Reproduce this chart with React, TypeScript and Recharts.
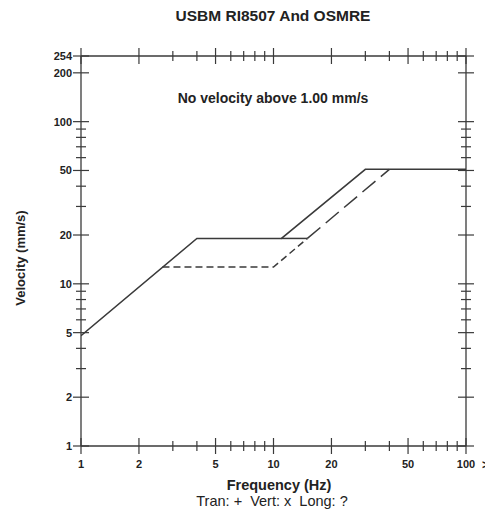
import { LineChart, Line, XAxis, YAxis } from "recharts";

// limit curves (Hz, mm/s)
const osmreFreq = [1, 4, 11, 30, 100];
const osmreVel = [4.79, 19.05, 19.05, 50.8, 50.8];

const drywallFreq = [11, 15];
const drywallVel = [19.05, 19.05];

const plasterFreq = [2.65, 10, 15];
const plasterVel = [12.7, 12.7, 19.05];

const dispFreq = [15, 40];
const dispVel = [19.05, 50.8];

const xTicks = [1, 2, 3, 4, 5, 6, 7, 8, 9, 10, 20, 30, 40, 50, 60, 70, 80, 90, 100];
const xMajor = [1, 2, 5, 10, 20, 50, 100];

const yTicks = [1, 2, 3, 4, 5, 6, 7, 8, 9, 10, 20, 30, 40, 50, 60, 70, 80, 90, 100, 200, 254];
const yMajor = [1, 2, 5, 10, 20, 50, 100, 200, 254];

const toPoints = (f: number[], v: number[]) => f.map((x, i) => ({ f: x, v: v[i] }));

const INK = "#3a3a3a";
const FONT = "'Liberation Sans', Arial, sans-serif";

function tickLen(major: boolean) {
  return major ? 8 : 5;
}

function BottomTick(props: any) {
  const { x, y, payload } = props;
  const major = xMajor.includes(payload.value);
  const len = tickLen(major);
  return (
    <g>
      <line x1={x} x2={x} y1={y - len} y2={y + len} stroke={INK} strokeWidth={1.2} />
      {major && (
        <text x={x} y={y + 22} textAnchor="middle" fontSize={11} fontWeight="bold" fill="#222" fontFamily={FONT}>
          {payload.value}
        </text>
      )}
    </g>
  );
}

function TopTick(props: any) {
  const { x, y, payload } = props;
  const len = tickLen(xMajor.includes(payload.value));
  return <line x1={x} x2={x} y1={y - len} y2={y + len} stroke={INK} strokeWidth={1.2} />;
}

function LeftTick(props: any) {
  const { x, y, payload } = props;
  const major = yMajor.includes(payload.value);
  const len = tickLen(major);
  return (
    <g>
      <line x1={x - len} x2={x + len} y1={y} y2={y} stroke={INK} strokeWidth={1.2} />
      {major && (
        <text x={x - 9} y={y + 4} textAnchor="end" fontSize={11} fontWeight="bold" fill="#222" fontFamily={FONT}>
          {payload.value}
        </text>
      )}
    </g>
  );
}

function RightTick(props: any) {
  const { x, y, payload } = props;
  const len = tickLen(yMajor.includes(payload.value));
  return <line x1={x - len} x2={x + len} y1={y} y2={y} stroke={INK} strokeWidth={1.2} />;
}

export default function App() {
  const W = 485;
  const H = 501;

  return (
    <div style={{ position: "relative", width: W, height: H, overflow: "hidden", background: "#fff" }}>
      <LineChart width={W} height={H} margin={{ top: 47, right: 26, bottom: 0, left: 0 }}>
        <XAxis
          dataKey="f"
          type="number"
          scale="log"
          domain={[1, 100]}
          allowDataOverflow
          ticks={xTicks}
          interval={0}
          height={63}
          tickSize={0}
          tickMargin={0}
          tick={<BottomTick />}
          axisLine={{ stroke: INK, strokeWidth: 1.3 }}
          tickLine={false}
        />
        <XAxis
          xAxisId="top"
          orientation="top"
          dataKey="f"
          type="number"
          scale="log"
          domain={[1, 100]}
          allowDataOverflow
          ticks={xTicks}
          interval={0}
          height={1}
          tickSize={0}
          tickMargin={0}
          tick={<TopTick />}
          axisLine={{ stroke: INK, strokeWidth: 1.3 }}
          tickLine={false}
        />
        <YAxis
          type="number"
          scale="log"
          domain={[1, 254]}
          allowDataOverflow
          ticks={yTicks}
          interval={0}
          width={73}
          tickSize={0}
          tickMargin={0}
          tick={<LeftTick />}
          axisLine={{ stroke: INK, strokeWidth: 1.3 }}
          tickLine={false}
        />
        <YAxis
          yAxisId="right"
          orientation="right"
          type="number"
          scale="log"
          domain={[1, 254]}
          allowDataOverflow
          ticks={yTicks}
          interval={0}
          width={1}
          tickSize={0}
          tickMargin={0}
          tick={<RightTick />}
          axisLine={{ stroke: INK, strokeWidth: 1.3 }}
          tickLine={false}
        />
        <Line
          data={toPoints(osmreFreq, osmreVel)}
          dataKey="v"
          type="linear"
          stroke={INK}
          strokeWidth={1.5}
          dot={false}
          isAnimationActive={false}
        />
        <Line
          data={toPoints(drywallFreq, drywallVel)}
          dataKey="v"
          type="linear"
          stroke={INK}
          strokeWidth={1.5}
          dot={false}
          isAnimationActive={false}
        />
        <Line
          data={toPoints(plasterFreq, plasterVel)}
          dataKey="v"
          type="linear"
          stroke={INK}
          strokeWidth={1.5}
          strokeDasharray="7 4"
          dot={false}
          isAnimationActive={false}
        />
        <Line
          data={toPoints(dispFreq, dispVel)}
          dataKey="v"
          type="linear"
          stroke={INK}
          strokeWidth={1.5}
          strokeDasharray="17 7"
          dot={false}
          isAnimationActive={false}
        />
      </LineChart>

      <svg
        width={W}
        height={H}
        style={{ position: "absolute", left: 0, top: 0, pointerEvents: "none" }}
        fontFamily={FONT}
        fill="#222"
      >
        <text x={265} y={13} textAnchor="middle" fontSize={15.5} fontWeight="bold">
          USBM RI8507 And OSMRE
        </text>
        <text x={265} y={95} textAnchor="middle" fontSize={14} fontWeight="bold">
          No velocity above 1.00 mm/s
        </text>
        <text
          x={17}
          y={250}
          textAnchor="middle"
          fontSize={13}
          fontWeight="bold"
          transform="rotate(-90 17 250)"
        >
          Velocity (mm/s)
        </text>
        <text x={271} y={482} textAnchor="middle" fontSize={14.5} fontWeight="bold">
          Frequency (Hz)
        </text>
        <text x={264} y={498} textAnchor="middle" fontSize={14.5} style={{ whiteSpace: "pre" }}>
          {"Tran: +  Vert: x  Long: ?"}
        </text>
        <text x={474} y={461} textAnchor="start" fontSize={12} fontWeight="bold">
          &gt;
        </text>
      </svg>
    </div>
  );
}
